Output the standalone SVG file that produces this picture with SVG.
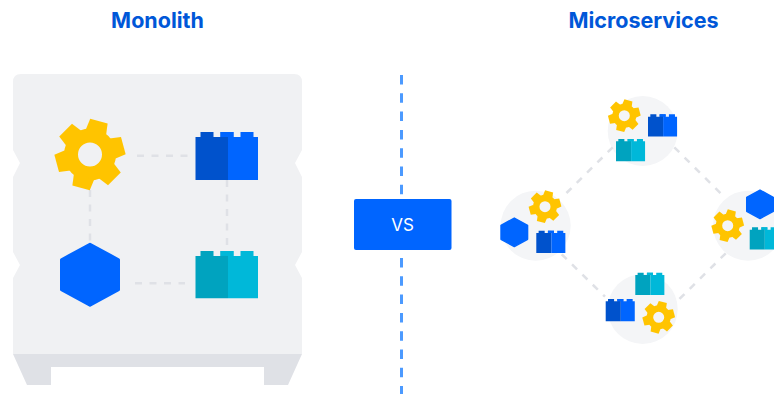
<svg xmlns="http://www.w3.org/2000/svg" width="774" height="394" viewBox="0 0 774 394">
<style>
.title{font-family:"Inter","Liberation Sans",sans-serif;font-weight:700;font-size:21.500px;fill:#0057D8;text-anchor:middle}
.vs{font-family:"Inter","Liberation Sans",sans-serif;font-size:17px;fill:#fff;text-anchor:middle}
.dash{fill:none;stroke:#DFE1E6;stroke-width:2.5;stroke-dasharray:7 7.5}
.axis{fill:none;stroke:#4C9AFF;stroke-width:3;stroke-dasharray:9.500 8.800}
.halo{fill:#F4F5F7}
</style>
<defs>
<g id="gear" fill="#FFC400">
<path fill-rule="evenodd" d="M26 0A26 26 0 1 0-26 0A26 26 0 1 0 26 0Z M12 0A12 12 0 1 0-12 0A12 12 0 1 0 12 0Z"/>
<path d="M-9-34.500H9L10.500-23H-10.500Z" transform="rotate(15)"/>
<path d="M-9-34.500H9L10.500-23H-10.500Z" transform="rotate(75)"/>
<path d="M-9-34.500H9L10.500-23H-10.500Z" transform="rotate(135)"/>
<path d="M-9-34.500H9L10.500-23H-10.500Z" transform="rotate(195)"/>
<path d="M-9-34.500H9L10.500-23H-10.500Z" transform="rotate(255)"/>
<path d="M-9-34.500H9L10.500-23H-10.500Z" transform="rotate(315)"/>
</g>
<g id="hex"><path fill="#0065FF" stroke="#0065FF" stroke-width="3" stroke-linejoin="round" d="M0-30.500L28.500-15V15L0 30.500L-28.500 15V-15Z"/></g>
<g id="brick-blue">
<path fill="#0052CC" d="M5 5V0H18V5H25V0H32.500V48H0V5Z"/>
<path fill="#0065FF" d="M32.500 48V0H38V5H45V0H58V5H62.500V48Z"/>
<path fill="#0065FF" d="M25 0H38V5H25Z"/>
</g>
<g id="brick-teal">
<path fill="#00A3BF" d="M5 5V0H18V5H25V0H32.500V48H0V5Z"/>
<path fill="#00B8D9" d="M32.500 48V0H38V5H45V0H58V5H62.500V48Z"/>
<path fill="#00B8D9" d="M25 0H38V5H25Z"/>
</g>
</defs>
<rect width="774" height="394" fill="#fff"/>
<g id="title-monolith"><text class="title" x="157.500" y="27.500">Monolith</text></g>
<g id="title-microservices"><text class="title" x="643.500" y="27.500">Microservices</text></g>
<g id="monolith-box">
<path fill="#F0F1F3" d="M21 74H294Q302 74 302 82V150L295 163L302 177V252L295 265L302 278V354H13V278L20 265L13 252V177L20 163L13 150V82Q13 74 21 74Z"/>
<path fill="#DFE1E6" d="M13 354H302L288 385H264V367H51V385H27Z"/>
</g>
<g id="halos">
<circle class="halo" cx="642.700" cy="131" r="35"/>
<circle class="halo" cx="535.700" cy="225.700" r="35"/>
<circle class="halo" cx="748" cy="225.700" r="35"/>
<circle class="halo" cx="642.700" cy="309" r="35"/>
</g>
<g id="connectors">
<path class="axis" d="M401.500 75V394"/>
<path class="dash" d="M137 155.700H188"/>
<path class="dash" d="M135 283.300H185"/>
<path class="dash" d="M90 190V242"/>
<path class="dash" d="M227 180V251"/>
<path class="dash" d="M674.300 147.300L725 197.700"/>
<path class="dash" d="M612.700 147.300L561.700 197.700"/>
<path class="dash" d="M561.700 254.300L605 296.700"/>
<path class="dash" d="M725.700 253.300L676.700 301.700"/>
</g>
<g id="mono-gear"><use href="#gear" transform="translate(90 154.500)"/></g>
<g id="mono-hex"><use href="#hex" transform="translate(90 274.700)"/></g>
<g id="mono-brick-blue"><use href="#brick-blue" transform="translate(195.500 132)"/></g>
<g id="mono-brick-teal"><use href="#brick-teal" transform="translate(195.500 251) scale(1 .985)"/></g>
<g id="vs"><rect x="354" y="199" width="97.500" height="51" rx="2" fill="#0065FF"/><text class="vs" x="402.500" y="230.500">VS</text></g>
<g id="svc-top">
<use href="#gear" transform="translate(624.300 115.700) scale(.46)"/>
<use href="#brick-blue" transform="translate(648 114.300) scale(.465)"/>
<use href="#brick-teal" transform="translate(616 139) scale(.465)"/>
</g>
<g id="svc-left">
<use href="#gear" transform="translate(545 206.700) scale(.46)"/>
<use href="#hex" transform="translate(514.300 232.300) scale(.467)"/>
<use href="#brick-blue" transform="translate(536.300 230.700) scale(.465)"/>
</g>
<g id="svc-right">
<use href="#gear" transform="translate(727.700 225.700) scale(.46)"/>
<use href="#hex" transform="translate(760 204.300) scale(.467)"/>
<use href="#brick-teal" transform="translate(749.700 227.300) scale(.465)"/>
</g>
<g id="svc-bottom">
<use href="#gear" transform="translate(658.700 317.300) scale(.46)"/>
<use href="#brick-teal" transform="translate(635.300 272.700) scale(.465)"/>
<use href="#brick-blue" transform="translate(605.700 299) scale(.465)"/>
</g>
</svg>
